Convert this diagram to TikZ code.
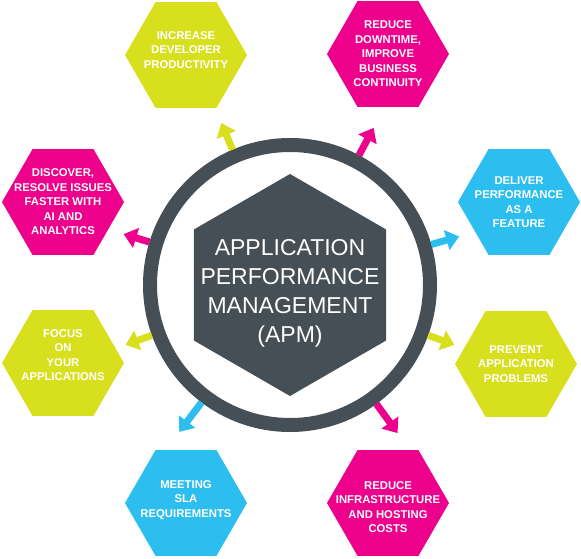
\documentclass[tikz,border=0pt]{standalone}
\usepackage{fontspec}
\setmainfont{Liberation Sans}
\usetikzlibrary{shapes.geometric, arrows.meta, positioning}

\definecolor{apmlime}{RGB}{216,224,30}
\definecolor{apmpink}{RGB}{236,0,140}
\definecolor{apmsky}{RGB}{45,190,240}
\definecolor{apmslate}{RGB}{71,79,86}

\begin{document}
\begin{tikzpicture}[
    x=1pt, y=1pt,
    hexa/.style={regular polygon, regular polygon sides=6, minimum size=122pt, inner sep=0pt, outer sep=0pt},
    caption/.style={text=white, align=center, font=\bfseries\fontsize{11.3}{14.5}\selectfont},
    spoke/.style={line width=7pt, -{Triangle[width=20pt,length=13pt]}}
]
\useasboundingbox (0,0) rectangle (581,558);

% ring and core
\node [circle, draw=apmslate, line width=14pt, minimum size=280pt, outer sep=7pt] (ring) at (290,273) {};
\node [regular polygon, regular polygon sides=6, shape border rotate=30, minimum size=222pt, inner sep=0pt, fill=apmslate] (core) at (290,273) {};
\node [text=white, align=center, font=\fontsize{23}{29}\selectfont] (title) at (290,265) {APPLICATION\\PERFORMANCE\\MANAGEMENT\\(APM)};

% outer hexagons
\node [hexa, fill=apmlime] (increase) at (186,503) {};
\node [caption] (increasetxt) at ([yshift=5]increase) {INCREASE\\DEVELOPER\\PRODUCTIVITY};
\node [hexa, fill=apmpink] (downtime) at (388,504) {};
\node [caption] (downtimetxt) at (downtime) {REDUCE\\DOWNTIME,\\IMPROVE\\BUSINESS\\CONTINUITY};
\node [hexa, fill=apmpink] (discover) at (63,356) {};
\node [caption] (discovertxt) at (discover) {DISCOVER,\\RESOLVE ISSUES\\FASTER WITH\\AI AND\\ANALYTICS};
\node [hexa, fill=apmsky] (deliver) at (519,356) {};
\node [caption] (delivertxt) at (deliver) {DELIVER\\PERFORMANCE\\AS A\\FEATURE};
\node [hexa, fill=apmlime] (focus) at (63,195) {};
\node [caption] (focustxt) at ([yshift=8]focus) {FOCUS\\ON\\YOUR\\APPLICATIONS};
\node [hexa, fill=apmlime] (prevent) at (516,194) {};
\node [caption] (preventtxt) at (prevent) {PREVENT\\APPLICATION\\PROBLEMS};
\node [hexa, fill=apmsky] (meeting) at (186,55) {};
\node [caption] (meetingtxt) at ([yshift=3]meeting) {MEETING\\SLA\\REQUIREMENTS};
\node [hexa, fill=apmpink] (hosting) at (388,55) {};
\node [caption] (hostingtxt) at ([yshift=-4]hosting) {REDUCE\\INFRASTRUCTURE\\AND HOSTING\\COSTS};

% arrow tips
\coordinate (tipincrease) at ([shift={(113:176)}]ring.center);
\coordinate (tipdowntime) at ([shift={(62:178)}]ring.center);
\coordinate (tipdiscover) at ([shift={(163:174)}]ring.center);
\coordinate (tipdeliver) at ([shift={(16:176)}]ring.center);
\coordinate (tipfocus) at ([shift={(200:175)}]ring.center);
\coordinate (tipprevent) at ([shift={(-20:175)}]ring.center);
\coordinate (tipmeeting) at ([shift={(233:184)}]ring.center);
\coordinate (tiphosting) at ([shift={(-54:183)}]ring.center);

\draw [spoke, apmlime] (ring.113) -- (tipincrease);
\draw [spoke, apmpink] (ring.62) -- (tipdowntime);
\draw [spoke, apmpink] (ring.163) -- (tipdiscover);
\draw [spoke, apmsky] (ring.16) -- (tipdeliver);
\draw [spoke, apmlime] (ring.200) -- (tipfocus);
\draw [spoke, apmlime] (ring.-20) -- (tipprevent);
\draw [spoke, apmsky] (ring.233) -- (tipmeeting);
\draw [spoke, apmpink] (ring.-54) -- (tiphosting);
\end{tikzpicture}
\end{document}
